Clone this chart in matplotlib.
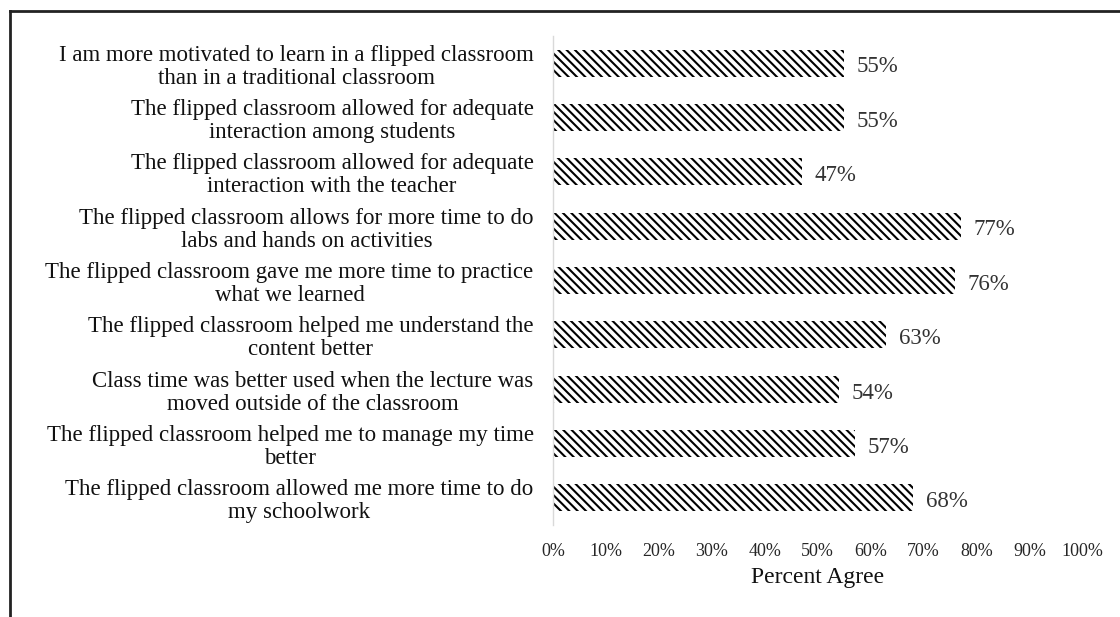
import matplotlib
matplotlib.use("Agg")
import matplotlib.pyplot as plt
from matplotlib.lines import Line2D

# survey statements, top to bottom
statements = [
    "I am more motivated to learn in a flipped classroom\nthan in a traditional classroom",
    "The flipped classroom allowed for adequate\ninteraction among students",
    "The flipped classroom allowed for adequate\ninteraction with the teacher",
    "The flipped classroom allows for more time to do\nlabs and hands on activities",
    "The flipped classroom gave me more time to practice\nwhat we learned",
    "The flipped classroom helped me understand the\ncontent better",
    "Class time was better used when the lecture was\nmoved outside of the classroom",
    "The flipped classroom helped me to manage my time\nbetter",
    "The flipped classroom allowed me more time to do\nmy schoolwork",
]
percent_agree = [55, 55, 47, 77, 76, 63, 54, 57, 68]
x_ticks = [0, 10, 20, 30, 40, 50, 60, 70, 80, 90, 100]

plt.rcParams['font.family'] = ['Liberation Serif', 'DejaVu Serif']
plt.rcParams['hatch.linewidth'] = 1.5
plt.rcParams['hatch.color'] = 'black'

fig = plt.figure(figsize=(11.2, 6.17), dpi=100)
ax = fig.add_axes([0.4938, 0.149, 0.4725, 0.7927])

y = list(range(len(statements)))
ax.barh(y, percent_agree, height=0.5, color='white', edgecolor='black',
        hatch='\\\\\\\\', linewidth=0)

for yi, v in zip(y, percent_agree):
    ax.text(v + 2.4, yi + 0.07, f"{v}%", va='center', ha='left',
            fontsize=16.5, color='#333333')

ax.set_ylim(len(statements) - 0.5, -0.5)
ax.set_xlim(0, 100)
ax.set_yticks(y)
ax.set_yticklabels(statements, fontsize=16.5, multialignment='center',
                   color='#111111', linespacing=1.12)
ax.set_xticks(x_ticks)
ax.set_xticklabels([f"{t}%" for t in x_ticks], fontsize=13, color='#262626')
ax.tick_params(axis='both', length=0)
ax.tick_params(axis='y', pad=14)
ax.tick_params(axis='x', pad=13)
ax.set_xlabel("Percent Agree", fontsize=17, color='#111111', labelpad=5)

for s in ['top', 'right', 'bottom']:
    ax.spines[s].set_visible(False)
ax.spines['left'].set_color('#d9d9d9')
ax.spines['left'].set_linewidth(1)

# outer frame (left and top edges visible in the original crop)
fig.add_artist(Line2D([10 / 1120, 10 / 1120], [0, 1 - 11 / 617],
                      transform=fig.transFigure, color='#222222', lw=2))
fig.add_artist(Line2D([10 / 1120, 1], [1 - 11 / 617, 1 - 11 / 617],
                      transform=fig.transFigure, color='#222222', lw=2))

fig.savefig("out.png", dpi=100)
